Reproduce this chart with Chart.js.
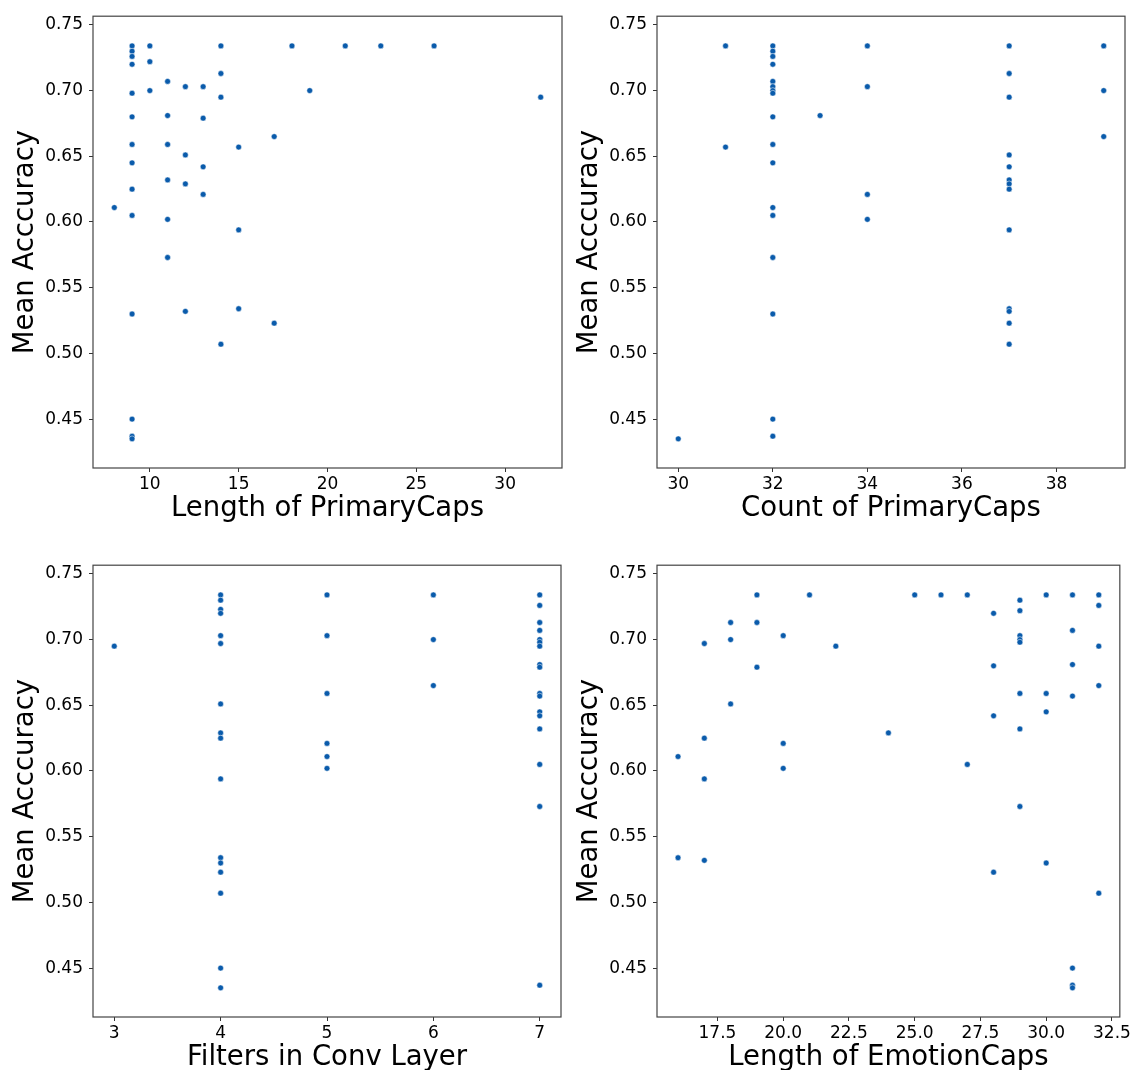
<!DOCTYPE html>
<html>
<head>
<meta charset="utf-8">
<script src="https://cdn.jsdelivr.net/npm/chart.js@4.4.1/dist/chart.umd.min.js"></script>
<style>
  html, body { margin: 0; padding: 0; background: #fff; overflow: hidden; }
  #wrap { position: relative; width: 1141px; height: 1070px; }
  canvas { position: absolute; }
</style>
</head>
<body>
<div id="wrap">
  <canvas id="c1" width="570" height="530" style="left:0;top:0"></canvas>
  <canvas id="c2" width="569" height="530" style="left:564px;top:0"></canvas>
  <canvas id="c3" width="569" height="530" style="left:0;top:549px"></canvas>
  <canvas id="c4" width="569" height="530" style="left:564px;top:549px"></canvas>
</div>
<script>
// y ticks shared by all panels
const accTicks = [0.45, 0.50, 0.55, 0.60, 0.65, 0.70, 0.75]

// Length of PrimaryCaps
const primLenX = [8,
  9, 9, 9, 9, 9, 9, 9, 9, 9, 9, 9, 9, 9, 9,
  10, 10, 10,
  11, 11, 11, 11, 11, 11,
  12, 12, 12, 12,
  13, 13, 13, 13,
  14, 14, 14, 14,
  15, 15, 15,
  17, 17,
  18, 19, 21, 23, 26, 32]
const primLenAcc = [0.611,
  0.734, 0.730, 0.726, 0.720, 0.698, 0.680, 0.659, 0.645, 0.625, 0.605, 0.530, 0.450, 0.437, 0.435,
  0.734, 0.722, 0.700,
  0.707, 0.681, 0.659, 0.632, 0.602, 0.573,
  0.703, 0.651, 0.629, 0.532,
  0.703, 0.679, 0.642, 0.621,
  0.734, 0.713, 0.695, 0.507,
  0.657, 0.594, 0.534,
  0.665, 0.523,
  0.734, 0.700, 0.734, 0.734, 0.734, 0.695]
const primLenTicks = [10, 15, 20, 25, 30]

// Count of PrimaryCaps
const primCountX = [30,
  31, 31,
  32, 32, 32, 32, 32, 32, 32, 32, 32, 32, 32, 32, 32, 32, 32, 32, 32,
  33,
  34, 34, 34, 34,
  37, 37, 37, 37, 37, 37, 37, 37, 37, 37, 37, 37, 37,
  39, 39, 39]
const primCountAcc = [0.435,
  0.734, 0.657,
  0.734, 0.730, 0.726, 0.720, 0.707, 0.703, 0.700, 0.698, 0.680, 0.659, 0.645, 0.611, 0.605, 0.573, 0.530, 0.450, 0.437,
  0.681,
  0.734, 0.703, 0.621, 0.602,
  0.734, 0.713, 0.695, 0.651, 0.642, 0.632, 0.629, 0.625, 0.594, 0.534, 0.532, 0.523, 0.507,
  0.734, 0.700, 0.665]
const primCountTicks = [30, 32, 34, 36, 38]

// Filters in Conv Layer
const filtersX = [3,
  4, 4, 4, 4, 4, 4, 4, 4, 4, 4, 4, 4, 4, 4, 4, 4,
  5, 5, 5, 5, 5, 5,
  6, 6, 6,
  7, 7, 7, 7, 7, 7, 7, 7, 7, 7, 7, 7, 7, 7, 7, 7, 7]
const filtersAcc = [0.695,
  0.734, 0.730, 0.723, 0.720, 0.703, 0.697, 0.651, 0.629, 0.625, 0.594, 0.534, 0.530, 0.523, 0.507, 0.450, 0.435,
  0.734, 0.703, 0.659, 0.621, 0.611, 0.602,
  0.734, 0.700, 0.665,
  0.734, 0.726, 0.713, 0.707, 0.700, 0.698, 0.695, 0.681, 0.679, 0.659, 0.657, 0.645, 0.642, 0.632, 0.605, 0.573, 0.437]
const filtersTicks = [3, 4, 5, 6, 7]

// Length of EmotionCaps
const emoLenX = [16, 16,
  17, 17, 17, 17,
  18, 18, 18,
  19, 19, 19,
  20, 20, 20,
  21, 22, 24, 25, 26,
  27, 27,
  28, 28, 28, 28,
  29, 29, 29, 29, 29, 29, 29, 29,
  30, 30, 30, 30,
  31, 31, 31, 31, 31, 31, 31,
  32, 32, 32, 32, 32]
const emoLenAcc = [0.611, 0.534,
  0.697, 0.625, 0.594, 0.532,
  0.713, 0.700, 0.651,
  0.734, 0.713, 0.679,
  0.703, 0.621, 0.602,
  0.734, 0.695, 0.629, 0.734, 0.734,
  0.734, 0.605,
  0.720, 0.680, 0.642, 0.523,
  0.730, 0.722, 0.703, 0.700, 0.698, 0.659, 0.632, 0.573,
  0.734, 0.659, 0.645, 0.530,
  0.734, 0.707, 0.681, 0.657, 0.450, 0.437, 0.435,
  0.734, 0.726, 0.695, 0.665, 0.507]
const emoLenTicks = [17.5, 20, 22.5, 25, 27.5, 30, 32.5]

const FONT = 'DejaVu Sans'
Chart.defaults.color = '#000'
Chart.defaults.font.family = FONT

// box around the plot area, like matplotlib spines
const framePlugin = {
  id: 'frame',
  afterDraw(chart) {
    const { ctx, chartArea: a } = chart
    ctx.save()
    ctx.strokeStyle = '#444'
    ctx.lineWidth = 1.2
    ctx.strokeRect(a.left, a.top, a.right - a.left, a.bottom - a.top)
    ctx.restore()
  }
}

function makePanel(id, xs, ys, xTitle, xMin, xMax, xTicks, xFmt) {
  const ctx = document.getElementById(id).getContext('2d')
  return new Chart(ctx, {
    type: 'scatter',
    data: {
      datasets: [{
        data: xs.map((x, i) => ({ x: x, y: ys[i] })),
        backgroundColor: '#0a5bab',
        borderColor: '#ffffff',
        borderWidth: 0.5,
        pointRadius: 2.9
      }]
    },
    options: {
      responsive: false,
      animation: false,
      layout: { padding: { top: 11, right: 8, bottom: 0, left: 0 } },
      plugins: { legend: { display: false }, tooltip: { enabled: false } },
      scales: {
        x: {
          type: 'linear',
          min: xMin,
          max: xMax,
          afterBuildTicks: s => { s.ticks = xTicks.map(v => ({ value: v })) },
          afterFit: s => { s.height = 62 },
          border: { display: false },
          grid: { drawOnChartArea: false, drawTicks: true, tickLength: 4, color: '#333', tickWidth: 1 },
          ticks: { font: { size: 17 }, padding: 2, maxRotation: 0, callback: xFmt },
          title: { display: true, text: xTitle, font: { size: 27.5, lineHeight: 1.2 }, padding: { top: 0, bottom: 4.5 } }
        },
        y: {
          min: 0.4128,
          max: 0.7566,
          afterBuildTicks: s => { s.ticks = accTicks.map(v => ({ value: v })) },
          afterFit: s => { s.width = 93 },
          border: { display: false },
          grid: { drawOnChartArea: false, drawTicks: true, tickLength: 4, color: '#333', tickWidth: 1 },
          ticks: { font: { size: 17 }, padding: 6, callback: v => v.toFixed(2) },
          title: { display: true, text: 'Mean Acccuracy', font: { size: 27.5, lineHeight: 1.2 }, padding: { top: 9.5, bottom: 0 } }
        }
      }
    },
    plugins: [framePlugin]
  })
}

const intFmt = v => String(v)
makePanel('c1', primLenX, primLenAcc, 'Length of PrimaryCaps', 6.8, 33.2, primLenTicks, intFmt)
makePanel('c2', primCountX, primCountAcc, 'Count of PrimaryCaps', 29.55, 39.45, primCountTicks, intFmt)
makePanel('c3', filtersX, filtersAcc, 'Filters in Conv Layer', 2.8, 7.2, filtersTicks, intFmt)
makePanel('c4', emoLenX, emoLenAcc, 'Length of EmotionCaps', 15.2, 32.8, emoLenTicks, v => v.toFixed(1))
</script>
</body>
</html>
